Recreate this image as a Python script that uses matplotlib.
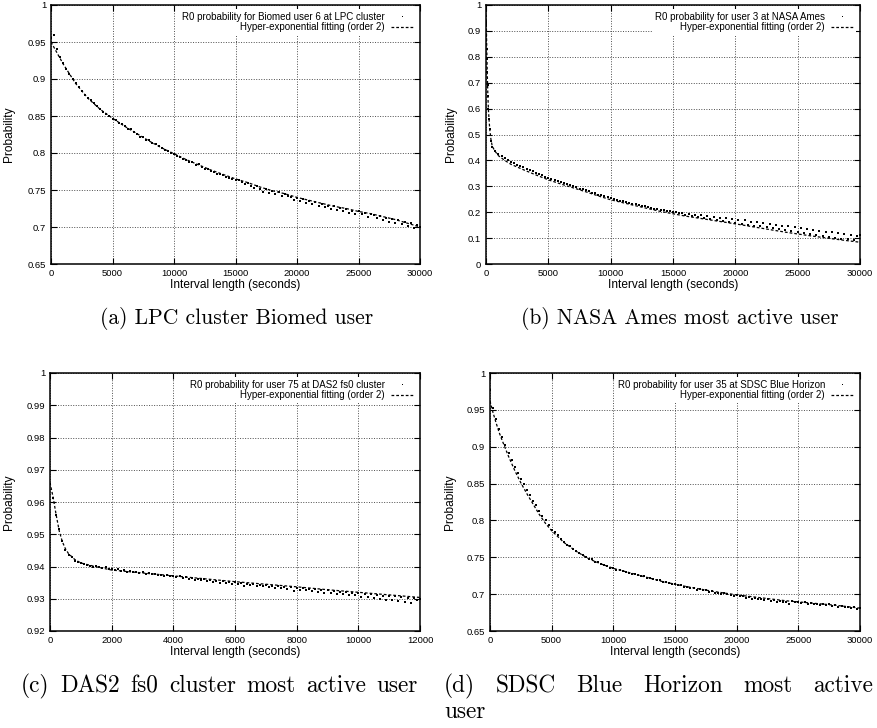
import numpy as np
import matplotlib
matplotlib.use("Agg")
import matplotlib.pyplot as plt
from matplotlib.ticker import MultipleLocator, FuncFormatter

plt.rcParams['font.family'] = 'Liberation Sans'

# ---- data (probability vs interval length) ----
# (a) LPC cluster, Biomed user 6 -- points every 250 s
a_x = np.arange(0, 30001, 250)
a_pts = [0.955, 0.960, 0.941, 0.930, 0.921, 0.914, 0.907, 0.900,
         0.894, 0.889, 0.884, 0.879, 0.874, 0.871, 0.867, 0.863,
         0.859, 0.856, 0.853, 0.850, 0.846, 0.845, 0.841, 0.839,
         0.837, 0.833, 0.832, 0.828, 0.826, 0.822, 0.822, 0.818,
         0.817, 0.813, 0.812, 0.809, 0.807, 0.804, 0.803, 0.800,
         0.798, 0.796, 0.795, 0.792, 0.791, 0.788, 0.788, 0.784,
         0.785, 0.781, 0.779, 0.778, 0.776, 0.775, 0.772, 0.772,
         0.770, 0.768, 0.766, 0.765, 0.764, 0.763, 0.761, 0.758,
         0.759, 0.756, 0.753, 0.755, 0.751, 0.747, 0.752, 0.746,
         0.748, 0.744, 0.747, 0.742, 0.744, 0.742, 0.740, 0.737,
         0.739, 0.735, 0.738, 0.733, 0.735, 0.731, 0.734, 0.728,
         0.731, 0.727, 0.729, 0.725, 0.728, 0.723, 0.726, 0.722,
         0.725, 0.719, 0.722, 0.718, 0.721, 0.717, 0.719, 0.713,
         0.718, 0.716, 0.712, 0.715, 0.710, 0.712, 0.707, 0.711,
         0.706, 0.709, 0.704, 0.707, 0.702, 0.705, 0.699, 0.703,
         0.700]
a_fit_x = np.arange(0, 30001, 1000)
a_fit = [0.950, 0.920, 0.894, 0.874, 0.859, 0.847, 0.836, 0.826, 0.816, 0.807,
         0.799, 0.791, 0.784, 0.777, 0.771, 0.765, 0.760, 0.754, 0.749, 0.745,
         0.740, 0.736, 0.732, 0.728, 0.725, 0.721, 0.718, 0.714, 0.710, 0.705,
         0.700]

# (b) NASA Ames, user 3
b_head_x = [20, 40, 60, 80, 100, 130, 160, 200, 300, 400]
b_head = [0.93, 0.88, 0.83, 0.79, 0.74, 0.69, 0.65, 0.60, 0.52, 0.475]
b_x = np.arange(0, 30001, 250)
b_pts = [0.990, 0.560, 0.452, 0.436, 0.425, 0.416, 0.408, 0.402,
         0.394, 0.389, 0.383, 0.378, 0.373, 0.368, 0.362, 0.358,
         0.352, 0.347, 0.343, 0.336, 0.333, 0.328, 0.324, 0.320,
         0.317, 0.312, 0.308, 0.305, 0.300, 0.296, 0.291, 0.289,
         0.284, 0.281, 0.276, 0.274, 0.268, 0.266, 0.262, 0.259,
         0.254, 0.251, 0.249, 0.245, 0.243, 0.239, 0.237, 0.233,
         0.231, 0.229, 0.225, 0.223, 0.219, 0.218, 0.213, 0.212,
         0.208, 0.207, 0.203, 0.204, 0.199, 0.200, 0.195, 0.197,
         0.190, 0.194, 0.186, 0.190, 0.181, 0.188, 0.178, 0.185,
         0.173, 0.183, 0.169, 0.179, 0.165, 0.176, 0.162, 0.173,
         0.158, 0.170, 0.155, 0.168, 0.151, 0.164, 0.148, 0.161,
         0.145, 0.158, 0.141, 0.155, 0.138, 0.152, 0.134, 0.148,
         0.130, 0.145, 0.127, 0.141, 0.123, 0.139, 0.119, 0.135,
         0.116, 0.132, 0.112, 0.128, 0.108, 0.125, 0.105, 0.122,
         0.102, 0.119, 0.098, 0.116, 0.095, 0.113, 0.092, 0.110,
         0.112]
b_fit_x = [0, 50, 100, 150, 200, 300, 400, 500, 700, 1000, 1500, 2000, 3000,
           4000, 5000, 6000, 7000, 8000, 9000, 10000, 12000, 14000, 16000,
           18000, 20000, 22000, 24000, 26000, 28000, 30000]
b_fit = [1.0, 0.86, 0.74, 0.65, 0.59, 0.52, 0.48, 0.455, 0.437, 0.418, 0.400,
         0.385, 0.364, 0.344, 0.325, 0.309, 0.294, 0.279, 0.263, 0.248, 0.225,
         0.203, 0.185, 0.170, 0.155, 0.139, 0.123, 0.109, 0.096, 0.084]

# (c) DAS2 fs0 cluster, user 75 -- points every 100 s
c_x = np.arange(0, 12001, 100)
c_pts = [0.9655, 0.9612, 0.9560, 0.9515, 0.9478, 0.9452, 0.9436, 0.9428, 0.9418, 0.9413,
         0.9412, 0.9408, 0.9404, 0.9402, 0.9400, 0.9401, 0.9398, 0.9396, 0.9397, 0.9393,
         0.9392, 0.9389, 0.9391, 0.9386, 0.9388, 0.9384, 0.9386, 0.9382, 0.9384, 0.9380,
         0.9382, 0.9378, 0.9380, 0.9376, 0.9377, 0.9374, 0.9375, 0.9371, 0.9373, 0.9370,
         0.9371, 0.9367, 0.9369, 0.9365, 0.9366, 0.9362, 0.9364, 0.9358, 0.9362, 0.9359,
         0.9360, 0.9356, 0.9358, 0.9353, 0.9356, 0.9350, 0.9354, 0.9349, 0.9352, 0.9347,
         0.9352, 0.9345, 0.9349, 0.9341, 0.9347, 0.9343, 0.9345, 0.9338, 0.9344, 0.9340,
         0.9343, 0.9336, 0.9341, 0.9334, 0.9339, 0.9332, 0.9337, 0.9330, 0.9335, 0.9324,
         0.9334, 0.9328, 0.9333, 0.9326, 0.9331, 0.9324, 0.9329, 0.9321, 0.9327, 0.9319,
         0.9326, 0.9318, 0.9324, 0.9316, 0.9322, 0.9314, 0.9321, 0.9313, 0.9319, 0.9311,
         0.9318, 0.9306, 0.9316, 0.9304, 0.9314, 0.9302, 0.9312, 0.9299, 0.9310, 0.9297,
         0.9309, 0.9296, 0.9307, 0.9293, 0.9305, 0.9290, 0.9303, 0.9288, 0.9302, 0.9295,
         0.9300]
c_fit_x = [0, 100, 200, 300, 400, 500, 600, 800, 1000, 1500, 2000, 3000, 4000,
           5000, 6000, 7000, 8000, 9000, 10000, 11000, 12000]
c_fit = [0.9660, 0.9615, 0.9560, 0.9510, 0.9477, 0.9455, 0.9440, 0.9422, 0.9411,
         0.9399, 0.9389, 0.9380, 0.9371, 0.9362, 0.9353, 0.9345, 0.9337, 0.9328,
         0.9320, 0.9312, 0.9304]

# (d) SDSC Blue Horizon, user 35 -- points every 250 s
d_x = np.arange(0, 30001, 250)
d_pts = [0.977, 0.953, 0.937, 0.924, 0.913, 0.903, 0.892, 0.882,
         0.873, 0.864, 0.856, 0.849, 0.841, 0.835, 0.827, 0.821,
         0.813, 0.806, 0.800, 0.794, 0.787, 0.784, 0.780, 0.775,
         0.771, 0.767, 0.765, 0.761, 0.758, 0.756, 0.753, 0.751,
         0.748, 0.747, 0.744, 0.743, 0.741, 0.739, 0.738, 0.736,
         0.735, 0.733, 0.733, 0.731, 0.730, 0.729, 0.728, 0.727,
         0.726, 0.724, 0.724, 0.722, 0.722, 0.720, 0.719, 0.719,
         0.717, 0.717, 0.715, 0.714, 0.714, 0.712, 0.712, 0.710,
         0.710, 0.708, 0.709, 0.706, 0.707, 0.706, 0.705, 0.703,
         0.704, 0.702, 0.702, 0.700, 0.701, 0.700, 0.699, 0.697,
         0.699, 0.697, 0.697, 0.695, 0.696, 0.694, 0.695, 0.693,
         0.694, 0.692, 0.693, 0.691, 0.692, 0.690, 0.691, 0.689,
         0.690, 0.687, 0.691, 0.690, 0.689, 0.688, 0.689, 0.687,
         0.688, 0.686, 0.687, 0.685, 0.686, 0.685, 0.686, 0.684,
         0.685, 0.683, 0.684, 0.682, 0.683, 0.681, 0.682, 0.680,
         0.681]
d_fit_x = [0, 250, 500, 750, 1000, 1500, 2000, 2500, 3000, 3500, 4000, 4500,
           5000, 6000, 7000, 8000, 9000, 10000, 12000, 14000, 16000, 18000,
           20000, 22000, 24000, 26000, 28000, 30000]
d_fit = [0.962, 0.946, 0.932, 0.919, 0.908, 0.887, 0.868, 0.851, 0.836, 0.822,
         0.808, 0.796, 0.786, 0.770, 0.758, 0.748, 0.741, 0.735, 0.726, 0.717,
         0.710, 0.704, 0.699, 0.695, 0.691, 0.688, 0.685, 0.681]

W, H = 877, 728
fig = plt.figure(figsize=(W / 100, H / 100), dpi=100)


def px_axes(left, top, right, bottom):
    return fig.add_axes([left / W, 1 - bottom / H, (right - left) / W, (bottom - top) / H])


def style(ax, xmax, xstep, ymin, ymax, ystep, ylab_x):
    ax.set_xlim(0, xmax)
    ax.set_ylim(ymin, ymax)
    ax.xaxis.set_major_locator(MultipleLocator(xstep))
    ax.yaxis.set_major_locator(MultipleLocator(ystep))
    fmt = FuncFormatter(lambda v, p: '%g' % round(v, 4))
    ax.xaxis.set_major_formatter(fmt)
    ax.yaxis.set_major_formatter(fmt)
    ax.tick_params(direction='in', top=True, right=True, length=4, width=0.8,
                   labelsize=6.8, pad=3.5, colors='black')
    ax.grid(True, color='0.3', linestyle=(0, (1, 1.6)), linewidth=0.7)
    ax.set_axisbelow(True)
    for s in ax.spines.values():
        s.set_linewidth(1.1)
    ax.set_xlabel("Interval length (seconds)", fontsize=8.6)
    ax.set_ylabel("Probability", fontsize=8.6)
    ax.xaxis.set_label_coords(0.5, -0.058)
    ax.yaxis.set_label_coords(ylab_x, 0.5)


def draw(ax, x, y, fx, fy, label):
    ax.plot(x, y, linestyle='none', marker='s', ms=1.7, mew=0, color='black', label=label)
    ax.plot(fx, fy, color='black', lw=0.9, dashes=(2.2, 1.6),
            label="Hyper-exponential fitting (order 2)")
    ax.legend(loc='upper right', bbox_to_anchor=(1.0, 1.0), fontsize=7.0, markerfirst=False,
              handlelength=2.3, handletextpad=0.6, labelspacing=0.05, borderpad=0.25,
              borderaxespad=0.45, frameon=True, fancybox=False, framealpha=1,
              edgecolor='none', facecolor='white', numpoints=1, markerscale=0.4)


ax_a = px_axes(51, 5, 420, 264)
style(ax_a, 30000, 5000, 0.65, 1.0, 0.05, -0.098)
draw(ax_a, a_x, a_pts, a_fit_x, a_fit, "R0 probability for Biomed user 6 at LPC cluster")

ax_b = px_axes(486, 5, 860, 264)
style(ax_b, 30000, 5000, 0.0, 1.0, 0.1, -0.078)
ax_b.plot(b_head_x, b_head, linestyle='none', marker='s', ms=1.7, mew=0, color='black')
draw(ax_b, b_x, b_pts, b_fit_x, b_fit, "R0 probability for user 3 at NASA Ames")

ax_c = px_axes(50, 373, 420, 631)
style(ax_c, 12000, 2000, 0.92, 1.0, 0.01, -0.095)
draw(ax_c, c_x, c_pts, c_fit_x, c_fit, "R0 probability for user 75 at DAS2 fs0 cluster")

ax_d = px_axes(490, 373, 860, 631)
style(ax_d, 30000, 5000, 0.65, 1.0, 0.05, -0.092)
draw(ax_d, d_x, d_pts, d_fit_x, d_fit, "R0 probability for user 35 at SDSC Blue Horizon")

# ---- sub-captions (serif, LaTeX-like) ----
cap = dict(family='cmr10', fontsize=15.5, va='center')
fig.text(237 / W, 1 - 318 / H, "(a) LPC cluster Biomed user", ha='center', **cap)
fig.text(680 / W, 1 - 318 / H, "(b) NASA Ames most active user", ha='center', **cap)

renderer = fig.canvas.get_renderer()
cap2 = dict(family='cmr10', fontsize=16.8, va='center')


def justified(words, x0, x1, y):
    objs = [fig.text(0, 1 - y / H, w, ha='left', **cap2) for w in words]
    widths = [o.get_window_extent(renderer).width for o in objs]
    gap = (x1 - x0 - sum(widths)) / (len(words) - 1)
    xpos = x0
    for o, wd in zip(objs, widths):
        o.set_x(xpos / W)
        xpos += wd + gap


justified("(c) DAS2 fs0 cluster most active user".split(), 21, 418, 686)
justified("(d) SDSC Blue Horizon most active".split(), 444, 873, 686)
fig.text(444 / W, 1 - 712 / H, "user", ha='left', **cap2)

fig.savefig("out.png", dpi=100)
